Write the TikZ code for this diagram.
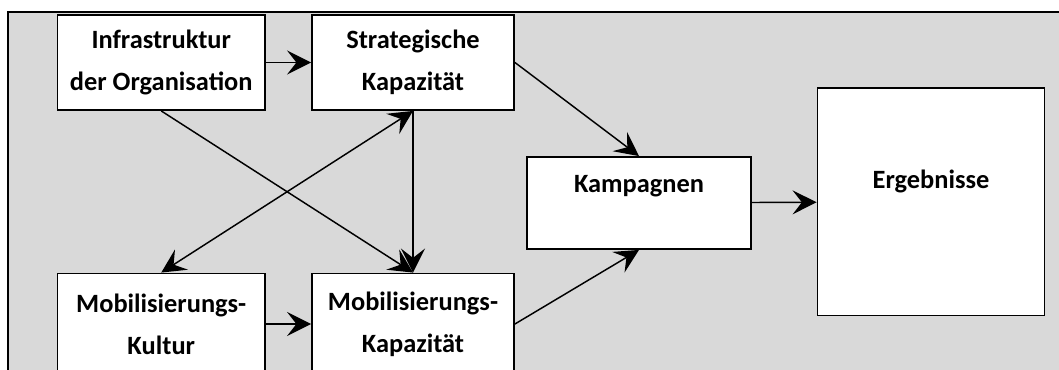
\documentclass[tikz,border=0pt]{standalone}
\usepackage{fontspec}
\setmainfont{Carlito}
\usetikzlibrary{arrows.meta}

\definecolor{panelgray}{RGB}{217,217,217}

\tikzset{
  >={Stealth[length=18pt,width=18pt,inset=7pt]},
  block/.style={draw=black, fill=white, line width=1.4pt, align=center, inner sep=0pt,
    font=\fontsize{19.8}{31.5}\selectfont\bfseries},
  link/.style={line width=1.1pt},
}

\begin{document}
\begin{tikzpicture}[x=0.75pt,y=0.75pt,yscale=-1]
    \useasboundingbox (0,0) rectangle (1059,370);
    \clip (0,0) rectangle (1059,370);

    %Shape: Rectangle [id:panel]
    \fill [panelgray] (8,12) rectangle (1070,380);
    \draw [line width=1.6pt] (8,385) -- (8,12) -- (1070,12);

    % Text Node
    \node [block, minimum width=155.6pt, minimum height=71.25pt] (infra) at (161.25,62.5) {Infrastruktur\\der Organisation};
    % Text Node
    \node [block, minimum width=151.5pt, minimum height=71.25pt] (strat) at (413,62.5) {Strategische\\Kapazität};
    % Text Node
    \node [block, minimum width=155.6pt, minimum height=75.75pt] (kultur) at (161.25,324) {Mobilisierungs-\\Kultur};
    % Text Node
    \node [block, minimum width=151.5pt, minimum height=75.75pt] (mobkap) at (413,324) {Mobilisierungs-\\Kapazität};
    % Text Node
    \node [block, minimum width=168pt, minimum height=69pt, text height=13pt, text depth=28pt] (kamp) at (639,203) {Kampagnen};
    % Text Node
    \node [block, minimum width=170.25pt, minimum height=170.6pt, text height=13pt, text depth=33.6pt] (erg) at (931,201.75) {Ergebnisse};

    %Straight Lines
    \draw [link, ->] (infra) -- (strat);
    \draw [link, ->] (kultur) -- (mobkap);
    \draw [link, ->] (infra.south) -- (mobkap.north);
    \draw [link, <->] (kultur.north) -- (strat.south);
    \draw [link, ->] (strat.south) -- (mobkap.north);
    \draw [link, ->] (strat.east) -- (kamp.north);
    \draw [link, ->] (mobkap.east) -- (kamp.south);
    \draw [link, ->] (kamp) -- (erg);

\end{tikzpicture}
\end{document}
